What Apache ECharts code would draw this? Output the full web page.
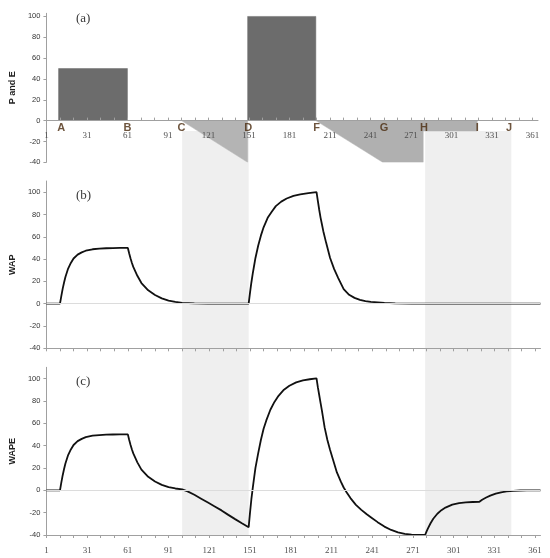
<!DOCTYPE html>
<html>
<head>
<meta charset="utf-8">
<title>P and E, WAP, WAPE</title>
<script src="https://cdn.jsdelivr.net/npm/echarts@6.0.0/dist/echarts.min.js"></script>
<style>
  html, body { margin: 0; padding: 0; background: #fff; }
  #main { width: 550px; height: 558px; }
</style>
</head>
<body>
<div id="main"></div>
<script>
// day ticks and labels
var xTickDays = [1, 11, 21, 31, 41, 51, 61, 71, 81, 91, 101, 111, 121, 131, 141, 151, 161, 171, 181,
  191, 201, 211, 221, 231, 241, 251, 261, 271, 281, 291, 301, 311, 321, 331, 341, 351, 361];
var xLabelDays = [1, 31, 61, 91, 121, 151, 181, 211, 241, 271, 301, 331, 361];
var yLabelValues = [-40, -20, 0, 20, 40, 60, 80, 100];

// (a) precipitation blocks and evaporation blocks, outline points [day, value]
var pBlock1 = [[10, 0], [10, 50], [61, 50], [61, 0]];
var pBlock2 = [[150, 0], [150, 100], [200.5, 100], [200.5, 0]];
var eBlock1 = [[101, 0], [150, -40], [150, 0]];
var eBlock2 = [[200.5, 0], [250, -40], [280, -40], [280, -10], [320, -10], [320, 0]];

// letters marked on the day axis of (a)
var letterNames = ['A', 'B', 'C', 'D', 'F', 'G', 'H', 'I', 'J'];
var letterDays = [12, 61, 101, 150.5, 201, 251, 280.5, 320, 343.5];

// shaded periods [from day, to day]
var shadePeriods = [[101, 150], [280, 343.5]];

// (b) WAP [day, value]
var wapPoints = [
  [1, 0], [11, 0], [12, 7], [13, 13.5], [14, 19], [15, 24], [17, 31.5], [19, 36.5], [21, 40.5],
  [24, 44], [27, 46], [30, 47.5], [35, 48.8], [40, 49.4], [45, 49.7], [50, 49.9], [55, 50], [61, 50],
  [62, 45], [63, 40.5], [64, 36.5], [65, 33], [68, 25], [71, 18.5], [76, 12], [81, 7.8], [86, 4.8],
  [91, 2.8], [96, 1.6], [101, 0.8], [110, 0.3], [120, 0.1], [130, 0], [150, 0],
  [151, 10], [152, 19], [153, 27], [154, 34], [155, 41], [157, 52], [159, 61], [161, 68.5], [164, 77],
  [167, 82.5], [170, 87.5], [174, 91.5], [178, 94.3], [183, 96.7], [188, 98], [194, 99.2], [200, 100],
  [201, 92], [202, 84], [203, 77], [204, 71], [205, 65], [207, 55], [210, 41], [213, 31], [216, 23],
  [220, 13], [224, 8], [228, 5.2], [232, 3.5], [236, 2.3], [240, 1.7], [245, 1.2], [250, 0.7],
  [258, 0.3], [270, 0], [365, 0]
];

// (c) WAPE [day, value]
var wapePoints = [
  [1, 0], [11, 0], [12, 7], [13, 13.5], [14, 19], [15, 24], [17, 31.5], [19, 36.5], [21, 40.5],
  [24, 44], [27, 46], [30, 47.5], [35, 48.8], [40, 49.4], [45, 49.7], [50, 49.9], [55, 50], [61, 50],
  [62, 45], [63, 40.5], [64, 36.5], [65, 33], [68, 25], [71, 18.5], [76, 12], [81, 7.8], [86, 4.8],
  [91, 2.8], [96, 1.6], [101, 0.8], [105, -1], [110, -4], [115, -7.5], [120, -11], [125, -14.5],
  [130, -18], [135, -22], [140, -25.8], [145, -29.5], [150, -33],
  [151, -20], [152, -8], [153, 2], [154, 11], [155, 20], [157, 33], [159, 45], [161, 55], [163, 62.5],
  [166, 72], [169, 79], [172, 84.5], [176, 90], [180, 93.5], [185, 96.5], [190, 98.3], [195, 99.3], [200, 100],
  [201, 92], [202, 85], [203, 78], [204, 71], [206, 56], [208, 45], [210, 36], [212, 28], [215, 16],
  [218, 7.5], [220, 2.5], [222, -1.5], [225, -7], [229, -13], [233, -17.5], [237, -21.5], [241, -25],
  [245, -28.5], [250, -32.5], [255, -35.5], [260, -37.7], [265, -39], [270, -39.7], [275, -40], [280, -40],
  [281, -37], [282, -34.3], [284, -29.5], [286, -25.5], [289, -21], [292, -17.8], [295, -15.5],
  [300, -12.8], [305, -11.5], [310, -10.8], [315, -10.5], [320, -10.3], [322, -8.5], [325, -6.5],
  [328, -4.8], [332, -3], [336, -1.8], [340, -1], [345, -0.5], [350, -0.2], [355, 0], [365, 0]
];

var axisGray = '#a0a0a0';
var serif = 'Liberation Serif';
var sans = 'Liberation Sans';

function makeXAxis(idx, showLabels, inside) {
  return {
    type: 'value', gridIndex: idx, min: 1, max: 365, z: 10,
    splitLine: { show: false },
    axisLine: { onZero: false, lineStyle: { color: axisGray, width: 1 } },
    axisTick: { show: true, inside: inside, length: 3, customValues: xTickDays,
      lineStyle: { color: axisGray } },
    axisLabel: { show: showLabels, customValues: xLabelDays, margin: 11,
      fontFamily: serif, fontSize: 9, color: '#505050' }
  };
}

function makeYAxis(idx, name, max, gap) {
  return {
    type: 'value', gridIndex: idx, min: -40, max: max,
    name: name, nameLocation: 'middle', nameGap: gap, nameRotate: 90,
    nameTextStyle: { fontFamily: sans, fontSize: 9, fontWeight: 'bold', color: '#222' },
    splitLine: { show: false },
    axisLine: { show: true, lineStyle: { color: axisGray, width: 1 } },
    axisTick: { show: true, length: 3, customValues: yLabelValues, lineStyle: { color: axisGray } },
    axisLabel: { customValues: yLabelValues, margin: 6, fontFamily: sans, fontSize: 7.5, color: '#333' }
  };
}

function blockSeries(points, color) {
  return {
    type: 'line', xAxisIndex: 0, yAxisIndex: 0, data: points,
    symbol: 'none', silent: true, z: 3,
    lineStyle: { width: 0.5, color: color },
    areaStyle: { color: color, opacity: 1 }
  };
}

function curveSeries(idx, points) {
  return {
    type: 'line', xAxisIndex: idx, yAxisIndex: idx, data: points,
    symbol: 'none', silent: true, z: 4,
    lineStyle: { width: 1.8, color: '#111' },
    markLine: {
      silent: true, symbol: 'none', label: { show: false }, animation: false,
      lineStyle: { color: '#dcdcdc', type: 'solid', width: 1 },
      data: [{ yAxis: 0 }]
    }
  };
}

var letterData = letterNames.map(function (n, i) {
  return { name: n, value: [letterDays[i], 0] };
});

var panelTitle = function (text, top) {
  return {
    text: text, left: 71, top: top,
    textStyle: { fontFamily: serif, fontSize: 13, fontWeight: 'normal', color: '#3a3a3a' }
  };
};

var chart = echarts.init(document.getElementById('main'));

var option = {
  animation: false,
  backgroundColor: '#fff',
  title: [panelTitle('(a)', 7), panelTitle('(b)', 184), panelTitle('(c)', 370.5)],
  grid: [
    { left: 42, right: 12, top: 13.3, height: 149 },
    { left: 44.5, right: 9.5, top: 181, height: 167.3 },
    { left: 44.5, right: 9.5, top: 367.3, height: 167.7 }
  ],
  xAxis: [makeXAxis(0, true, true), makeXAxis(1, false, false), makeXAxis(2, true, false)],
  yAxis: [makeYAxis(0, 'P and E', 103, 20), makeYAxis(1, 'WAP', 110, 27), makeYAxis(2, 'WAPE', 110, 27)],
  series: [
    blockSeries(pBlock1, '#6c6c6c'),
    blockSeries(pBlock2, '#6c6c6c'),
    blockSeries(eBlock1, '#b4b4b4'),
    blockSeries(eBlock2, '#b0b0b0'),
    {
      type: 'scatter', xAxisIndex: 0, yAxisIndex: 0, data: letterData,
      symbolSize: 1, silent: true, z: 12,
      itemStyle: { color: 'rgba(0,0,0,0)' },
      label: {
        show: true, position: 'bottom', distance: 1,
        formatter: function (p) { return p.name; },
        fontFamily: sans, fontSize: 11, fontWeight: 'bold', color: '#4a2a0e'
      }
    },
    curveSeries(1, wapPoints),
    curveSeries(2, wapePoints)
  ]
};

chart.setOption(option);

// the day axis of (a) sits on its zero line
var yZeroA = chart.convertToPixel({ yAxisIndex: 0 }, 0);
var yBottomA = chart.convertToPixel({ yAxisIndex: 0 }, -40);
chart.setOption({ xAxis: [{ offset: yZeroA - yBottomA }] });

// grey periods run from -10 in (a) down to the bottom axis of (c)
var shadeTop = chart.convertToPixel({ yAxisIndex: 0 }, -10);
var shadeBottom = chart.convertToPixel({ yAxisIndex: 2 }, -40);
var shades = shadePeriods.map(function (p) {
  var x0 = chart.convertToPixel({ xAxisIndex: 1 }, p[0]);
  var x1 = chart.convertToPixel({ xAxisIndex: 1 }, p[1]);
  return {
    type: 'rect', silent: true, z: -1,
    shape: { x: x0, y: shadeTop, width: x1 - x0, height: shadeBottom - shadeTop },
    style: { fill: '#efefef' }
  };
});
chart.setOption({ graphic: shades });
</script>
</body>
</html>
